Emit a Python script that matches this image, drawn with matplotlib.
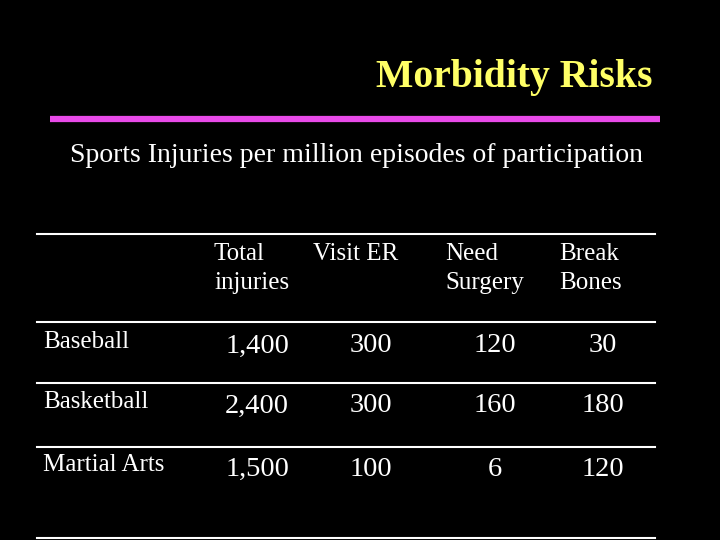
import matplotlib.pyplot as plt

sports = ["Baseball", "Basketball", "Martial Arts"]
headers = ["Total\ninjuries", "Visit ER", "Need\nSurgery", "Break\nBones"]
values = [["1,400", "300", "120", "30"],
          ["2,400", "300", "160", "180"],
          ["1,500", "100", "6", "120"]]

W, H = 720, 540
fig = plt.figure(figsize=(7.2, 5.4), dpi=100, facecolor="black")
ax = fig.add_axes([0, 0, 1, 1])
ax.set_xlim(0, W)
ax.set_ylim(H, 0)
ax.axis("off")
ax.set_facecolor("black")
serif = "Liberation Serif"

ax.text(652, 77, "Morbidity Risks", color="#FFFF66", fontsize=28.5, fontweight="bold",
        family=serif, ha="right", va="center")
ax.plot([50, 660], [119, 119], color="#E84AE8", lw=4.5, solid_capstyle="butt")
ax.text(70, 155, "Sports Injuries per million episodes of participation", color="white",
        fontsize=20, family=serif, ha="left", va="center")

for y in [234, 322, 383, 447, 538]:
    ax.plot([37, 655], [y, y], color="white", lw=1.5)

header_x = [214, 313, 445, 559]
for x, h in zip(header_x, headers):
    for k, line in enumerate(h.split("\n")):
        ax.text(x, 254 + 29 * k, line, color="white", fontsize=18, family=serif,
                ha="left", va="center")

row_y = [346, 406, 469]
val_x = [257, 371, 495, 603]
for y, name, row in zip(row_y, sports, values):
    ax.text(43, y - 4, name, color="white", fontsize=18, family=serif, ha="left", va="center")
    for x, v in zip(val_x, row):
        ax.text(x, y, v, color="white", fontsize=20.5, family=serif, ha="center", va="center")

fig.savefig("out.png", dpi=100, facecolor="black")
